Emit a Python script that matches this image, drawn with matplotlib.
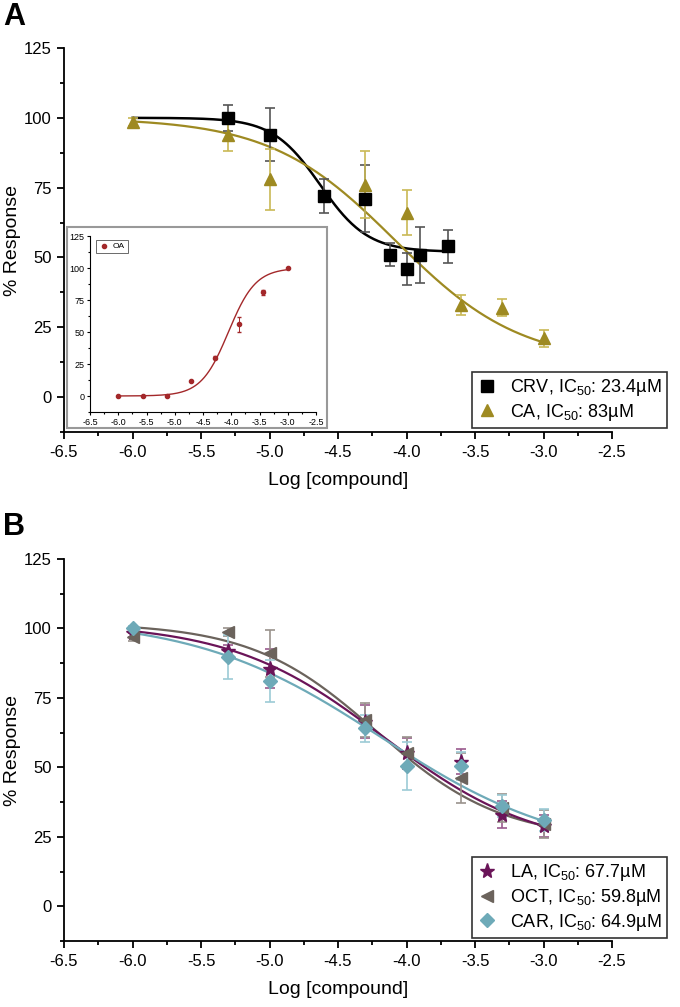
import numpy as np
import matplotlib
matplotlib.use("Agg")
import matplotlib.pyplot as plt
from matplotlib.patches import Rectangle
from matplotlib.ticker import MultipleLocator

plt.rcParams['font.family'] = ['Liberation Sans', 'DejaVu Sans']
plt.rcParams['mathtext.default'] = 'regular'

# ---------------- data: panel A ----------------
crv_x = [-5.3, -5.0, -4.6, -4.3, -4.12, -4.0, -3.9, -3.7]
crv_y = [100, 94, 72, 71, 51, 46, 51, 54]
crv_err = [4.7, 9.5, 6, 12, 4, 5.7, 10, 6]
crv_fit = [100, 52, -4.63, 2.5]      # top, bottom, logIC50, hill

ca_x = [-6.0, -5.3, -5.0, -4.3, -4.0, -3.6, -3.3, -3.0]
ca_y = [98.5, 94, 78, 76, 66, 33, 32, 21]
ca_err = [1.5, 6, 11, 12, 8, 3.5, 3, 3]
ca_fit = [100, 12, -4.08, 0.95]

# inset OA
oa_x = [-6.0, -5.57, -5.14, -4.71, -4.29, -3.86, -3.43, -3.0]
oa_y = [0, 0, 0, 12, 30, 56, 81, 100]
oa_err = [0, 0, 0, 0, 1, 6, 2, 0]
oa_fit = [0, 100, -4.05, 1.8]        # bottom, top, logEC50, hill

# ---------------- data: panel B ----------------
b_x = [-6.0, -5.3, -5.0, -4.3, -4.0, -3.6, -3.3, -3.0]
la_y = [98.5, 92, 85.5, 66.5, 55, 52, 33, 29]
la_err = [1.5, 2, 7, 6, 5.5, 4.5, 5, 4]
la_fit = [102, 20, -4.17, 0.78]
oct_y = [97, 98.8, 91, 67, 55.3, 46, 35.5, 29.5]
oct_err = [1.5, 1.5, 8.6, 6, 5.5, 9, 5, 5]
oct_fit = [102, 24, -4.22, 0.95]
car_y = [100, 89.8, 81.2, 64, 50.6, 50.4, 36, 31]
car_err = [1, 8, 7.6, 5, 8.6, 5, 4, 4]
car_fit = [104, 18, -4.19, 0.64]

x_ticks = [-6.5, -6.0, -5.5, -5.0, -4.5, -4.0, -3.5, -3.0, -2.5]
y_ticks = [0, 25, 50, 75, 100, 125]

legend_a = ["CRV, IC$_{50}$: 23.4\u00b5M", "CA, IC$_{50}$: 83\u00b5M"]
legend_b = ["LA, IC$_{50}$: 67.7\u00b5M", "OCT, IC$_{50}$: 59.8\u00b5M",
            "CAR, IC$_{50}$: 64.9\u00b5M"]


def dec4pl(x, p):
    top, bot, c, h = p
    return bot + (top - bot) / (1 + 10 ** ((x - c) * h))


def inc4pl(x, p):
    bot, top, c, h = p
    return bot + (top - bot) / (1 + 10 ** ((c - x) * h))


fig = plt.figure(figsize=(6.8, 10.07), dpi=100)

TICK_FS = 12
LABEL_FS = 14
LEG_FS = 13


def style_axes(ax, fs=TICK_FS, lw=1.3):
    ax.set_xlim(-6.5, -2.5)
    ax.set_ylim(-12.5, 125)
    ax.set_xticks(x_ticks)
    ax.set_xticklabels([f"{v:.1f}" for v in x_ticks])
    ax.set_yticks(y_ticks)
    ax.xaxis.set_minor_locator(MultipleLocator(0.25))
    ax.yaxis.set_minor_locator(MultipleLocator(12.5))
    for s in ['top', 'right']:
        ax.spines[s].set_visible(False)
    for s in ['left', 'bottom']:
        ax.spines[s].set_linewidth(lw)
    ax.tick_params(which='major', direction='out', length=5, width=lw,
                   labelsize=fs, pad=4)
    ax.tick_params(which='minor', direction='out', length=3, width=lw)


# ---------------- Panel A ----------------
axA = fig.add_axes([64/680, 1-432/1007, 548/680, 384/1007])
style_axes(axA)
olive = '#9e8a22'
olive_light = '#c9b955'
xs = np.linspace(-6.0, -3.7, 300)
axA.plot(xs, dec4pl(xs, crv_fit), color='black', lw=1.8, zorder=2)
xs2 = np.linspace(-6.0, -3.0, 300)
axA.plot(xs2, dec4pl(xs2, ca_fit), color=olive, lw=1.6, zorder=2)
axA.errorbar(crv_x, crv_y, yerr=crv_err, fmt='none', ecolor='#555555',
             elinewidth=1.2, capsize=3.5, capthick=1.2, zorder=3)
axA.errorbar(ca_x, ca_y, yerr=ca_err, fmt='none', ecolor=olive_light,
             elinewidth=1.2, capsize=3.5, capthick=1.2, zorder=3)
hA1, = axA.plot(crv_x, crv_y, 's', color='black', ms=8, ls='none', zorder=4)
hA2, = axA.plot(ca_x, ca_y, '^', color=olive, ms=9, ls='none', zorder=4)
axA.set_ylabel('% Response', fontsize=LABEL_FS, labelpad=2)
axA.set_xlabel('Log [compound]', fontsize=LABEL_FS, labelpad=9)
legA = fig.legend([hA1, hA2], legend_a, loc='lower right',
                  bbox_to_anchor=(667/680, 1-428/1007), fontsize=LEG_FS,
                  frameon=True, fancybox=False, edgecolor='black',
                  handlelength=1.0, handletextpad=0.8, borderpad=0.3,
                  labelspacing=0.2, borderaxespad=0)
legA.get_frame().set_linewidth(1.2)
fig.text(3/680, 1-17/1007, 'A', fontsize=22, fontweight='bold',
         va='center', ha='left')

# inset frame
fig.patches.append(Rectangle((67/680, 1-428/1007), 260/680, 201/1007,
                             transform=fig.transFigure, fill=True,
                             facecolor='white', edgecolor='#999999',
                             lw=1.5, zorder=5))
axI = fig.add_axes([90/680, 1-412/1007, 226/680, 176/1007], zorder=6)
axI.set_xlim(-6.5, -2.5)
axI.set_ylim(-12.5, 125)
axI.set_xticks(x_ticks)
axI.set_xticklabels([f"{v:.1f}" for v in x_ticks])
axI.set_yticks(y_ticks)
axI.xaxis.set_minor_locator(MultipleLocator(0.25))
axI.yaxis.set_minor_locator(MultipleLocator(12.5))
for s in ['top', 'right']:
    axI.spines[s].set_visible(False)
axI.tick_params(which='major', length=2.5, width=0.8, labelsize=6.5, pad=1.5)
axI.tick_params(which='minor', length=1.5, width=0.8)
oa_col = '#a3282a'
xi = np.linspace(-6.0, -3.0, 300)
axI.plot(xi, inc4pl(xi, oa_fit), color=oa_col, lw=1.0)
axI.errorbar(oa_x, oa_y, yerr=oa_err, fmt='o', color=oa_col, ms=3,
             ecolor=oa_col, elinewidth=0.7, capsize=1.5)
hI, = axI.plot([], [], 'o', color=oa_col, ms=3)
legI = axI.legend([hI], ['OA'], loc='upper left', fontsize=6,
                  fancybox=False, edgecolor='#444444', handlelength=1.2,
                  borderpad=0.3, handletextpad=0.5,
                  bbox_to_anchor=(0.01, 1.0))
legI.get_frame().set_linewidth(0.7)

# ---------------- Panel B ----------------
axB = fig.add_axes([64/680, 1-941/1007, 548/680, 382/1007])
style_axes(axB)
purple = '#6a1458'
grayb = '#6b635c'
teal = '#6eaab8'
xb = np.linspace(-6.0, -3.0, 300)
axB.plot(xb, dec4pl(xb, oct_fit), color=grayb, lw=1.6, zorder=2)
axB.plot(xb, dec4pl(xb, la_fit), color=purple, lw=1.6, zorder=2)
axB.plot(xb, dec4pl(xb, car_fit), color=teal, lw=1.6, zorder=2)
for yv, ev, c in [(la_y, la_err, '#9a5a8e'), (oct_y, oct_err, '#9a928c'),
                  (car_y, car_err, '#9ccbd6')]:
    axB.errorbar(b_x, yv, yerr=ev, fmt='none', ecolor=c, elinewidth=1.2,
                 capsize=3.5, capthick=1.2, zorder=3)
hB1, = axB.plot(b_x, la_y, '*', color=purple, ms=11, ls='none', zorder=4)
hB2, = axB.plot(b_x, oct_y, '<', color=grayb, ms=8, ls='none', zorder=4)
hB3, = axB.plot(b_x, car_y, 'D', color=teal, ms=7, ls='none', zorder=4)
axB.set_ylabel('% Response', fontsize=LABEL_FS, labelpad=2)
axB.set_xlabel('Log [compound]', fontsize=LABEL_FS, labelpad=9)
legB = fig.legend([hB1, hB2, hB3], legend_b, loc='lower right',
                  bbox_to_anchor=(667/680, 1-938/1007), fontsize=LEG_FS,
                  frameon=True, fancybox=False, edgecolor='black',
                  handlelength=1.0, handletextpad=0.8, borderpad=0.3,
                  labelspacing=0.2, borderaxespad=0)
legB.get_frame().set_linewidth(1.2)
fig.text(3/680, 1-527/1007, 'B', fontsize=22, fontweight='bold',
         va='center', ha='left')

fig.savefig('out.png', dpi=100)
